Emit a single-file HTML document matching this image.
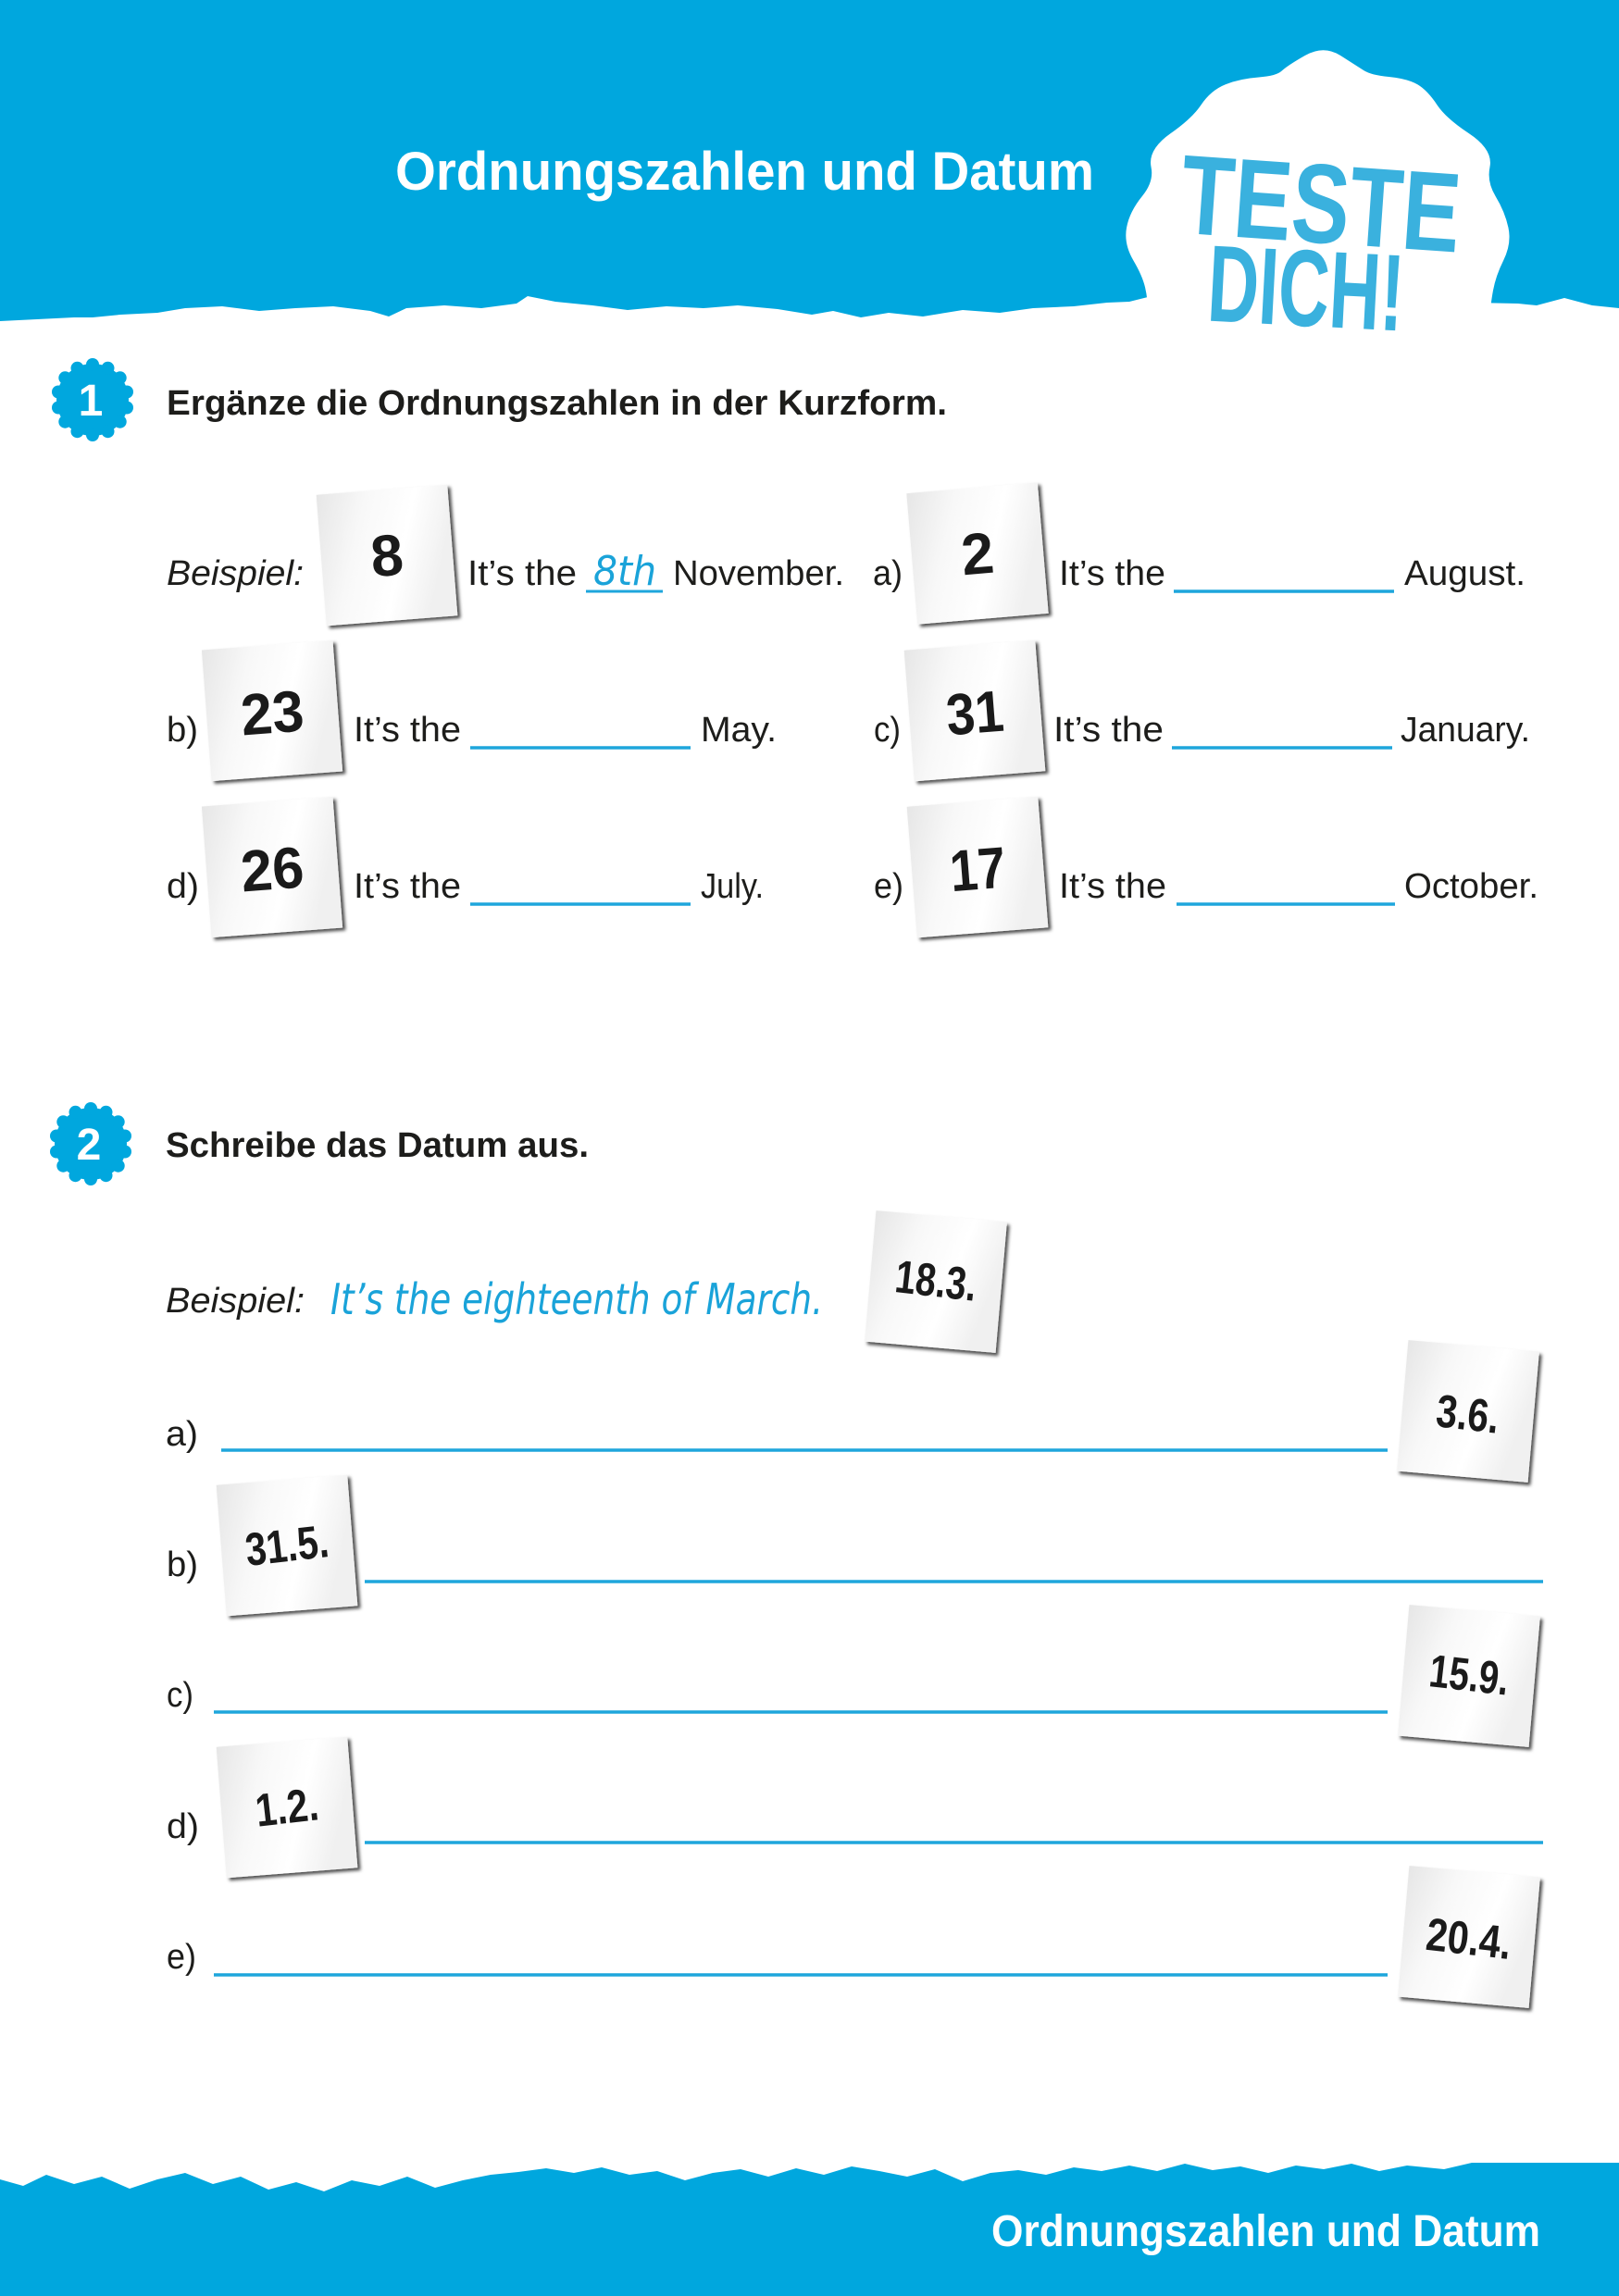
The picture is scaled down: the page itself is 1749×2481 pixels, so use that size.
<!DOCTYPE html>
<html><head><meta charset="utf-8">
<style>
html,body{margin:0;padding:0;background:#fff;}
svg{display:block;}
text{font-family:"Liberation Sans",sans-serif;}
.t{font-size:38px;fill:#1d1d1b;}
.b{font-size:38px;font-weight:700;fill:#1d1d1b;}
.i{font-size:38px;font-style:italic;fill:#1d1d1b;}
.h{font-family:"DejaVu Sans","Liberation Sans",sans-serif;font-style:italic;font-weight:200;fill:#1aa3d9;}
.d{font-weight:700;fill:#1a1a1a;text-anchor:middle;}
.ln{stroke:#1ea6dc;stroke-width:3.5;}
</style></head>
<body>
<svg width="1749" height="2481" viewBox="0 0 1749 2481" xmlns="http://www.w3.org/2000/svg">
<defs>
<linearGradient id="cg" x1="0" y1="0" x2="1" y2="0.3">
<stop offset="0" stop-color="#e6e6e6"/>
<stop offset="0.35" stop-color="#f8f8f8"/>
<stop offset="0.7" stop-color="#ffffff"/>
<stop offset="1" stop-color="#f0f0f0"/>
</linearGradient>
<filter id="sh" x="-20%" y="-20%" width="150%" height="150%">
<feDropShadow dx="3" dy="3" stdDeviation="1.8" flood-color="#000" flood-opacity="0.7"/>
</filter>
<g id="badge" fill="#00a7de">
<circle cx="0" cy="0" r="39"/>
<circle cx="0" cy="-38" r="7"/>
<circle cx="16.5" cy="-34.2" r="7"/>
<circle cx="29.7" cy="-23.7" r="7"/>
<circle cx="37" cy="-8.5" r="7"/>
<circle cx="37" cy="8.5" r="7"/>
<circle cx="29.7" cy="23.7" r="7"/>
<circle cx="16.5" cy="34.2" r="7"/>
<circle cx="0" cy="38" r="7"/>
<circle cx="-16.5" cy="34.2" r="7"/>
<circle cx="-29.7" cy="23.7" r="7"/>
<circle cx="-37" cy="8.5" r="7"/>
<circle cx="-37" cy="-8.5" r="7"/>
<circle cx="-29.7" cy="-23.7" r="7"/>
<circle cx="-16.5" cy="-34.2" r="7"/>
</g>
<rect id="card" x="-71" y="-71" width="142" height="142" fill="url(#cg)" filter="url(#sh)"/>
</defs>

<!-- header -->
<polygon fill="#00a7de" points="0,0 1749,0 1749,333 1720,330 1690,322 1660,330 1640,328 1244,320 1220,326 1196,327 1160,331 1116,333 1080,338 1040,335 997,342 960,338 930,343 900,336 877,340 840,334 797,330 760,333 720,331 678,335 640,330 600,326 570,320 558,328 520,333 480,330 439,333 420,342 400,336 360,331 319,333 280,336 240,331 200,333 170,338 130,340 100,343 80,343 40,345 0,347"/>
<!-- blob -->
<path fill="#fff" stroke="#fff" stroke-width="6" stroke-linejoin="round" d="M1243,350 L1243,336.5 Q1243,323 1240,310 Q1237,297 1227,280 Q1217,263 1220,246.5 Q1223,230 1236.5,213.5 Q1250,197 1246.5,180 Q1243,163 1266.5,146.5 Q1290,130 1300,115 Q1310,100 1325,94 Q1340,88 1360,86.5 Q1380,85 1386.5,79 Q1393,73 1411.5,62.5 Q1430,52 1446.5,62.5 Q1463,73 1471.5,78.5 Q1480,84 1500,86 Q1520,88 1530,94 Q1540,100 1550,115 Q1560,130 1585,146.5 Q1610,163 1606.5,180 Q1603,197 1613,213.5 Q1623,230 1626.5,246.5 Q1630,263 1621.5,280 Q1613,297 1610,313.5 Q1607,330 1607,340 L1607,350 Z"/>
<text x="1276" y="262" font-size="122" font-weight="700" fill="#1fa6da" fill-opacity="0.88" textLength="302" lengthAdjust="spacingAndGlyphs" transform="rotate(4 1425 220)">TESTE</text>
<text x="1305" y="352" font-size="118" font-weight="700" fill="#1fa6da" fill-opacity="0.88" textLength="212" lengthAdjust="spacingAndGlyphs" transform="rotate(3 1410 310)">DICH!</text>
<text x="427" y="205" font-size="58" font-weight="700" fill="#fff" textLength="755" lengthAdjust="spacingAndGlyphs">Ordnungszahlen und Datum</text>

<!-- section 1 -->
<use href="#badge" x="100" y="432"/>
<text x="98" y="449" font-size="48" font-weight="700" fill="#fff" text-anchor="middle">1</text>
<text class="b" x="180" y="448" textLength="843" lengthAdjust="spacingAndGlyphs">Ergänze die Ordnungszahlen in der Kurzform.</text>

<!-- row 1 -->
<text class="i" x="180" y="632" textLength="148" lengthAdjust="spacingAndGlyphs">Beispiel:</text>
<g transform="translate(418,600) rotate(-4.5)"><use href="#card"/><text class="d" x="0" y="22" font-size="63">8</text></g>
<text class="t" x="505" y="632" textLength="118" lengthAdjust="spacingAndGlyphs">It’s the</text>
<text class="h" x="641" y="632" font-size="44" textLength="68" lengthAdjust="spacingAndGlyphs">8th</text>
<line class="ln" x1="633" y1="639" x2="716" y2="639" style="stroke-width:3"/>
<text class="t" x="727" y="632" textLength="185" lengthAdjust="spacingAndGlyphs">November.</text>
<text class="t" x="943" y="632" textLength="32" lengthAdjust="spacingAndGlyphs">a)</text>
<g transform="translate(1056,598) rotate(-4.8)"><use href="#card"/><text class="d" x="0" y="22" font-size="63">2</text></g>
<text class="t" x="1144" y="632" textLength="115" lengthAdjust="spacingAndGlyphs">It’s the</text>
<line class="ln" x1="1268" y1="639" x2="1506" y2="639"/>
<text class="t" x="1517" y="632" textLength="131" lengthAdjust="spacingAndGlyphs">August.</text>

<!-- row 2 -->
<text class="t" x="180" y="801" textLength="34" lengthAdjust="spacingAndGlyphs">b)</text>
<g transform="translate(294,768) rotate(-4.3)"><use href="#card"/><text class="d" x="0" y="24" font-size="63" textLength="68" lengthAdjust="spacingAndGlyphs">23</text></g>
<text class="t" x="382" y="801" textLength="116" lengthAdjust="spacingAndGlyphs">It’s the</text>
<line class="ln" x1="508" y1="808" x2="746" y2="808"/>
<text class="t" x="757" y="801" textLength="82" lengthAdjust="spacingAndGlyphs">May.</text>
<text class="t" x="944" y="801" textLength="29" lengthAdjust="spacingAndGlyphs">c)</text>
<g transform="translate(1053,768) rotate(-4.5)"><use href="#card"/><text class="d" x="0" y="24" font-size="63" textLength="62" lengthAdjust="spacingAndGlyphs">31</text></g>
<text class="t" x="1138" y="801" textLength="119" lengthAdjust="spacingAndGlyphs">It’s the</text>
<line class="ln" x1="1266" y1="808" x2="1504" y2="808"/>
<text class="t" x="1513" y="801" textLength="140" lengthAdjust="spacingAndGlyphs">January.</text>

<!-- row 3 -->
<text class="t" x="180" y="970" textLength="35" lengthAdjust="spacingAndGlyphs">d)</text>
<g transform="translate(294,937) rotate(-4.3)"><use href="#card"/><text class="d" x="0" y="24" font-size="63" textLength="68" lengthAdjust="spacingAndGlyphs">26</text></g>
<text class="t" x="382" y="970" textLength="116" lengthAdjust="spacingAndGlyphs">It’s the</text>
<line class="ln" x1="508" y1="977" x2="746" y2="977"/>
<text class="t" x="757" y="970" textLength="68" lengthAdjust="spacingAndGlyphs">July.</text>
<text class="t" x="944" y="970" textLength="32" lengthAdjust="spacingAndGlyphs">e)</text>
<g transform="translate(1056,937) rotate(-4.5)"><use href="#card"/><text class="d" x="0" y="24" font-size="63" textLength="60" lengthAdjust="spacingAndGlyphs">17</text></g>
<text class="t" x="1144" y="970" textLength="116" lengthAdjust="spacingAndGlyphs">It’s the</text>
<line class="ln" x1="1271" y1="977" x2="1507" y2="977"/>
<text class="t" x="1517" y="970" textLength="145" lengthAdjust="spacingAndGlyphs">October.</text>

<!-- section 2 -->
<use href="#badge" x="98" y="1236"/>
<text x="96" y="1253" font-size="48" font-weight="700" fill="#fff" text-anchor="middle">2</text>
<text class="b" x="179" y="1250" textLength="457" lengthAdjust="spacingAndGlyphs">Schreibe das Datum aus.</text>

<text class="i" x="179" y="1418" textLength="150" lengthAdjust="spacingAndGlyphs">Beispiel:</text>
<text class="h" x="357" y="1420" font-size="46" textLength="532" lengthAdjust="spacingAndGlyphs">It’s the eighteenth of March.</text>
<g transform="translate(1011,1385) rotate(5)"><use href="#card"/><text class="d" x="0" y="16" font-size="50" textLength="88" lengthAdjust="spacingAndGlyphs" transform="rotate(1.5)">18.3.</text></g>

<text class="t" x="179" y="1562" textLength="35" lengthAdjust="spacingAndGlyphs">a)</text>
<line class="ln" x1="239" y1="1567" x2="1499" y2="1567"/>
<g transform="translate(1586,1525) rotate(5)"><use href="#card"/><text class="d" x="0" y="20" font-size="50" textLength="68" lengthAdjust="spacingAndGlyphs" transform="rotate(1.5)">3.6.</text></g>

<text class="t" x="180" y="1703" textLength="34" lengthAdjust="spacingAndGlyphs">b)</text>
<line class="ln" x1="394" y1="1709" x2="1667" y2="1709"/>
<g transform="translate(310,1670) rotate(-4.5)"><use href="#card"/><text class="d" x="0" y="17" font-size="50" textLength="90" lengthAdjust="spacingAndGlyphs" transform="rotate(-2)">31.5.</text></g>

<text class="t" x="180" y="1844" textLength="29" lengthAdjust="spacingAndGlyphs">c)</text>
<line class="ln" x1="231" y1="1850" x2="1499" y2="1850"/>
<g transform="translate(1587,1811) rotate(5)"><use href="#card"/><text class="d" x="0" y="16" font-size="50" textLength="86" lengthAdjust="spacingAndGlyphs" transform="rotate(1.5)">15.9.</text></g>

<text class="t" x="180" y="1986" textLength="35" lengthAdjust="spacingAndGlyphs">d)</text>
<line class="ln" x1="394" y1="1991" x2="1667" y2="1991"/>
<g transform="translate(310,1953) rotate(-4.5)"><use href="#card"/><text class="d" x="0" y="17" font-size="50" textLength="68" lengthAdjust="spacingAndGlyphs" transform="rotate(-2)">1.2.</text></g>

<text class="t" x="180" y="2127" textLength="32" lengthAdjust="spacingAndGlyphs">e)</text>
<line class="ln" x1="231" y1="2134" x2="1499" y2="2134"/>
<g transform="translate(1587,2093) rotate(5)"><use href="#card"/><text class="d" x="0" y="19" font-size="50" textLength="92" lengthAdjust="spacingAndGlyphs" transform="rotate(1.5)">20.4.</text></g>

<!-- footer -->
<polygon fill="#00a7de" points="0,2355 25,2362 50,2350 80,2360 110,2352 140,2365 170,2355 200,2348 230,2360 260,2352 290,2366 320,2358 350,2368 380,2356 410,2362 440,2352 470,2364 500,2356 530,2350 560,2347 590,2343 620,2348 650,2342 680,2350 710,2346 740,2356 770,2348 800,2344 830,2352 860,2343 890,2350 920,2341 950,2346 980,2352 1010,2344 1040,2357 1070,2348 1100,2345 1130,2350 1160,2342 1190,2346 1220,2340 1250,2346 1280,2338 1310,2345 1340,2341 1370,2348 1400,2340 1430,2344 1460,2338 1490,2346 1520,2340 1560,2344 1590,2337 1749,2337 1749,2481 0,2481"/>
<text x="1071" y="2427" font-size="48" font-weight="700" fill="#fff" textLength="593" lengthAdjust="spacingAndGlyphs">Ordnungszahlen und Datum</text>
</svg>
</body></html>
